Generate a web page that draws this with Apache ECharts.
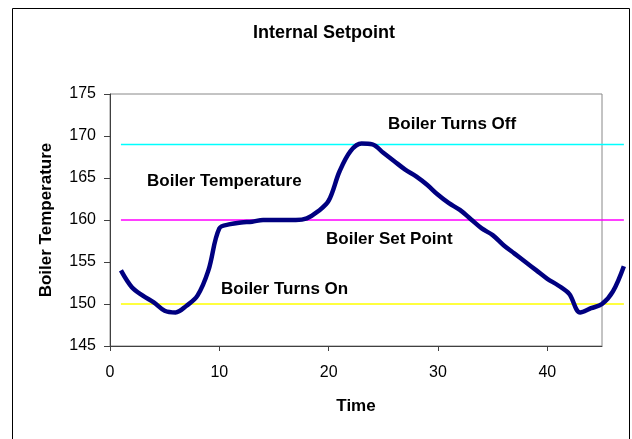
<!DOCTYPE html>
<html>
<head>
<meta charset="utf-8">
<script src="https://cdn.jsdelivr.net/npm/echarts@6/dist/echarts.min.js"></script>
<style>html,body{margin:0;padding:0;background:#fff;}#c{width:632px;height:439px;}</style>
</head>
<body>
<div id="c"></div>
<script>
var times = [1,2,3,4,5,6,7,8,9,10,11,12,13,14,15,16,17,18,19,20,21,22,23,24,25,26,27,28,29,30,31,32,33,34,35,36,37,38,39,40,41,42,43,44,45,46,47];
var boilerTemp = [154,152,151,150.2,149.2,149,149.8,151,154,159,159.5,159.7,159.8,160,160,160,160,160.2,161,162.3,165.8,168.2,169.1,169,168,167,166,165.2,164.2,163,162,161.2,160.1,159,158.2,157,156,155,154,153,152.2,151.2,149,149.5,150,151.5,154.5];
var turnsOff = 169;
var setPoint = 160;
var turnsOn = 150;
var xTicks = [0,10,20,30,40];
var labels = ['Boiler Turns Off','Boiler Temperature','Boiler Set Point','Boiler Turns On'];

function pairs(vals){ return times.map(function(t,i){ return [t, vals[i]]; }); }
function flat(v){ return times.map(function(t){ return [t, v]; }); }

var font = "'Liberation Sans', Arial, sans-serif";
var gLeft = 110, gTop = 94, gRight = 30, gBottom = 93, W = 632;
var axisMax = 45, overMax = 47;
var plotW = W - gLeft - gRight;
var overW = plotW * overMax / axisMax;

var chart = echarts.init(document.getElementById('c'), null, {renderer:'canvas'});
chart.setOption({
  animation:false,
  backgroundColor:'#fff',
  title:{ text:'Internal Setpoint', left:319, top:19, textAlign:'center',
    textStyle:{ fontFamily:font, fontSize:18, fontWeight:'bold', color:'#000' } },
  grid:[
    { left:gLeft, top:gTop, right:gRight, bottom:gBottom, show:true, borderColor:'#888', borderWidth:1, backgroundColor:'#fff' },
    { left:gLeft, top:gTop, width:overW, bottom:gBottom, show:false }
  ],
  xAxis:[
    { gridIndex:0, type:'value', min:0, max:axisMax, interval:10, name:'Time', nameLocation:'middle', nameGap:52,
      nameTextStyle:{ fontFamily:font, fontSize:17, fontWeight:'bold', color:'#000' },
      axisLine:{ show:true, lineStyle:{ color:'#404040', width:1 } },
      axisTick:{ show:true, length:5, customValues:xTicks, lineStyle:{ color:'#404040' } },
      axisLabel:{ customValues:xTicks, margin:19, fontFamily:font, fontSize:16, color:'#000' },
      splitLine:{ show:false } },
    { gridIndex:1, type:'value', min:0, max:overMax, show:false, splitLine:{ show:false } }
  ],
  yAxis:[
    { gridIndex:0, type:'value', min:145, max:175, interval:5, name:'Boiler Temperature', nameLocation:'middle', nameGap:55, nameRotate:90,
      nameTextStyle:{ fontFamily:font, fontSize:17, fontWeight:'bold', color:'#000' },
      axisLine:{ show:true, lineStyle:{ color:'#404040', width:1 } },
      axisTick:{ show:true, length:6, lineStyle:{ color:'#404040' } },
      axisLabel:{ margin:14, fontFamily:font, fontSize:16, color:'#000' },
      splitLine:{ show:false } },
    { gridIndex:1, type:'value', min:145, max:175, show:false, splitLine:{ show:false } }
  ],
  series:[
    { type:'line', xAxisIndex:1, yAxisIndex:1, data:flat(turnsOff), showSymbol:false, clip:false, lineStyle:{ color:'#00FFFF', width:1.5 }, z:2 },
    { type:'line', xAxisIndex:1, yAxisIndex:1, data:flat(setPoint), showSymbol:false, clip:false, lineStyle:{ color:'#FF00FF', width:1.5 }, z:2 },
    { type:'line', xAxisIndex:1, yAxisIndex:1, data:flat(turnsOn), showSymbol:false, clip:false, lineStyle:{ color:'#FFFF00', width:1.5 }, z:2 },
    { type:'line', xAxisIndex:1, yAxisIndex:1, data:pairs(boilerTemp), showSymbol:false, clip:false, smooth:0.35, lineStyle:{ color:'#000080', width:4.5 }, z:3 }
  ],
  graphic:[
    { type:'rect', shape:{ x:12.5, y:8.5, width:617, height:450 }, style:{ fill:null, stroke:'#000', lineWidth:1 }, silent:true, z:100 },
    { type:'text', x:388, y:124, style:{ text:labels[0], font:'bold 17px '+font, fill:'#000', verticalAlign:'middle' }, z:100 },
    { type:'text', x:147, y:181, style:{ text:labels[1], font:'bold 17px '+font, fill:'#000', verticalAlign:'middle' }, z:100 },
    { type:'text', x:326, y:239, style:{ text:labels[2], font:'bold 17px '+font, fill:'#000', verticalAlign:'middle' }, z:100 },
    { type:'text', x:221, y:289, style:{ text:labels[3], font:'bold 17px '+font, fill:'#000', verticalAlign:'middle' }, z:100 }
  ]
});
</script>
</body>
</html>
